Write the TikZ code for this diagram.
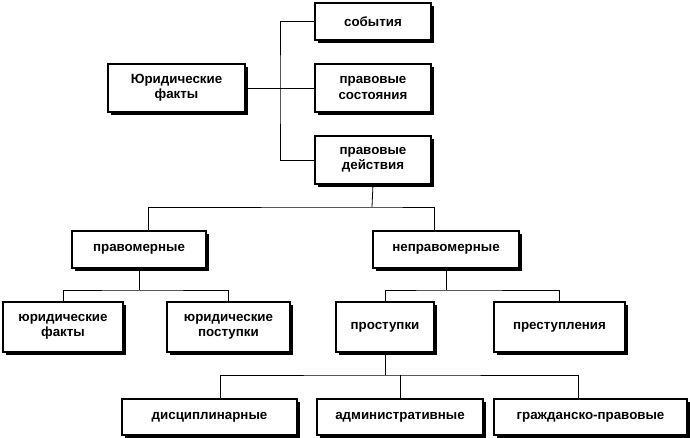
\documentclass[tikz,border=0pt]{standalone}
\usepackage{fontspec}
\setmainfont{Liberation Sans}
\usetikzlibrary{shadows}
\begin{document}
\begin{tikzpicture}[x=0.75pt,y=-0.75pt,
  bx/.style={draw=black,fill=white,line width=0.8pt,align=center,font=\bfseries\fontsize{10}{11.5}\selectfont,inner sep=0pt,
    drop shadow={shadow xshift=2.2pt,shadow yshift=-2.2pt,fill=black,opacity=1}},
  ln/.style={line width=0.6pt}]
\useasboundingbox (0,0) rectangle (690,438);
\newcommand{\bxat}[6]{\node[bx,minimum width={(#3-#2)*0.75pt},minimum height={(#5-#4)*0.75pt}] (#1) at ({(#2+#3)/2},{(#4+#5)/2}) {#6};}
\bxat{yf}{108}{245}{64}{112}{Юридические\\факты}
\bxat{sob}{315}{431}{3}{40}{события}
\bxat{sost}{315}{431}{64}{112}{правовые\\состояния}
\bxat{dei}{315}{431}{136}{184}{правовые\\действия}
\bxat{pm}{72}{206}{231}{268}{правомерные}
\bxat{npm}{373}{519}{231}{268}{неправомерные}
\bxat{yf2}{3}{123}{302}{352}{юридические\\факты}
\bxat{yp}{167}{290}{302}{352}{юридические\\поступки}
\bxat{pr}{336}{434}{302}{352}{проступки}
\bxat{prs}{494}{625}{302}{352}{преступления}
\bxat{dis}{122}{297}{399}{435}{дисциплинарные}
\bxat{adm}{317}{483}{399}{435}{административные}
\bxat{gr}{494}{687}{399}{435}{гражданско-правовые}
\coordinate (j1) at (280,88);
\draw[ln] (yf.east) -- (j1);
\draw[ln] (sob.west) -| (280,88) |- (dei.west);
\draw[ln] (j1) -- (sost.west);
\coordinate (j2) at (372,207);
\draw[ln] (dei.south) -- (j2);
\draw[ln] (pm.north-|148,0) |- (j2) -| (npm.north-|434,0);
\coordinate (j3) at (139,290);
\draw[ln] (pm.south) -- (j3);
\draw[ln] (yf2.north) |- (j3) -| (yp.north);
\coordinate (j4) at (446,290);
\draw[ln] (npm.south) -- (j4);
\draw[ln] (pr.north) |- (j4) -| (prs.north);
\coordinate (j5) at (385,375);
\draw[ln] (pr.south) -- (j5);
\draw[ln] (dis.north-|220,0) |- (j5) -| (gr.north-|578,0);
\draw[ln] (adm.north) -- (adm.north|-j5);
\end{tikzpicture}
\end{document}
